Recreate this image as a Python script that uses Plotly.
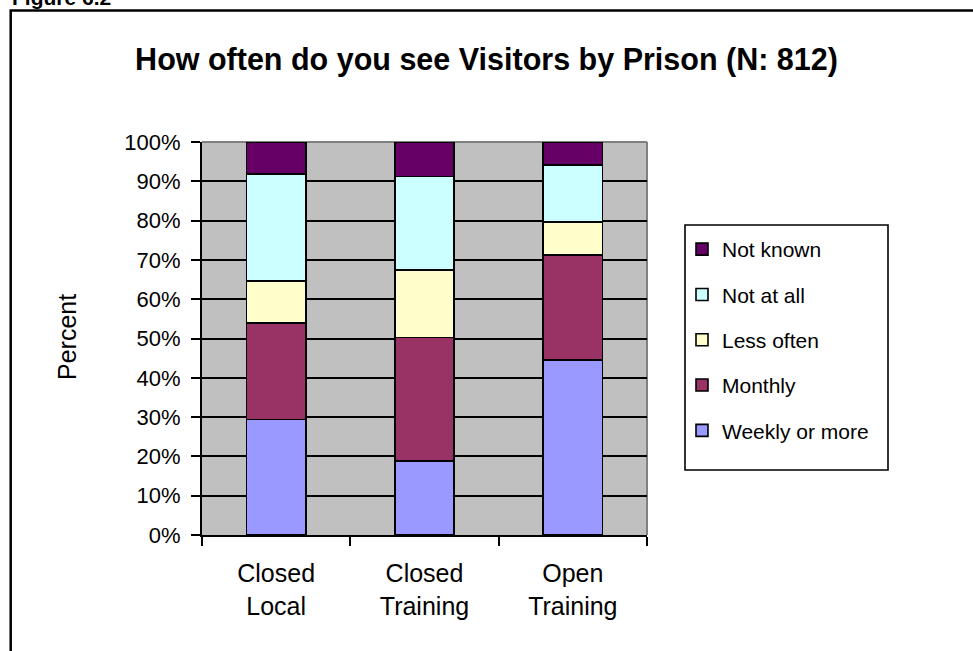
import plotly.graph_objects as go

# Survey responses: how often prisoners see visitors, by prison type (percent of respondents)
prisons = ["Closed<br>Local", "Closed<br>Training", "Open<br>Training"]
weekly_or_more = [29.4, 18.9, 44.5]
monthly = [24.5, 31.4, 26.7]
less_often = [10.7, 17.2, 8.5]
not_at_all = [27.2, 23.7, 14.4]
not_known = [8.2, 8.8, 5.9]

series = [
    ("Weekly or more", weekly_or_more, "#9999FF"),
    ("Monthly", monthly, "#993366"),
    ("Less often", less_often, "#FFFFCC"),
    ("Not at all", not_at_all, "#CCFFFF"),
    ("Not known", not_known, "#660066"),
]

W, H = 973, 651
L, R, T, B = 202, 326, 142, 116
PW, PH = W - L - R, H - T - B
FONT = "Liberation Sans, Arial, Helvetica, sans-serif"


def px_x(px):
    """Convert a horizontal pixel position to paper coordinates."""
    return (px - L) / PW


def px_y(py):
    """Convert a vertical pixel position (from the top) to paper coordinates."""
    return (H - B - py) / PH


fig = go.Figure()
n = len(series)
for i, (name, values, color) in enumerate(series):
    fig.add_trace(go.Bar(
        x=prisons,
        y=values,
        name=name,
        legendgroup=name,
        legendrank=n - i,  # top segment listed first in the legend
        marker=dict(color=color, line=dict(color="black", width=1.6)),
    ))

fig.update_layout(
    width=W,
    height=H,
    margin=dict(l=L, r=R, t=T, b=B, pad=0),
    barmode="stack",
    bargap=0.6,
    paper_bgcolor="white",
    plot_bgcolor="#C0C0C0",
    font=dict(family=FONT, color="black"),
    title=dict(
        text="How often do you see Visitors by Prison (N: 812)",
        font=dict(size=30.5, weight="bold", family=FONT, color="black"),
        x=0.5,
        xref="container",
        xanchor="center",
        y=1 - 59 / H,
        yref="container",
        yanchor="middle",
    ),
    xaxis=dict(
        showgrid=False,
        showline=True,
        linecolor="black",
        linewidth=2,
        ticks="outside",
        tickson="boundaries",
        ticklen=9,
        tickwidth=2,
        tickcolor="black",
        ticklabelstandoff=15,
        tickfont=dict(size=25, family=FONT, color="black"),
        zeroline=False,
    ),
    yaxis=dict(
        range=[0, 100],
        dtick=10,
        ticksuffix="%",
        showgrid=True,
        gridcolor="black",
        gridwidth=1.6,
        showline=True,
        linecolor="black",
        linewidth=2,
        ticks="outside",
        ticklen=9,
        tickwidth=2,
        tickcolor="black",
        ticklabelstandoff=6,
        tickfont=dict(size=22, family=FONT, color="black"),
        zeroline=False,
    ),
    legend=dict(
        x=px_x(682),
        y=px_y(229),
        xanchor="left",
        yanchor="top",
        traceorder="grouped",
        tracegroupgap=15,
        bgcolor="rgba(0,0,0,0)",
        borderwidth=0,
        font=dict(size=21, family=FONT, color="black"),
    ),
    showlegend=True,
)

# Legend box
fig.add_shape(type="rect", xref="paper", yref="paper",
              x0=px_x(685), x1=px_x(888), y0=px_y(470), y1=px_y(225),
              line=dict(color="black", width=1.6), fillcolor="white", layer="below")

# Gray plot-area border on top and right (between gridlines and bars)
fig.add_shape(type="line", xref="paper", yref="paper", x0=0, x1=1, y0=1, y1=1,
              line=dict(color="#808080", width=2), layer="between")
fig.add_shape(type="line", xref="paper", yref="paper", x0=1, x1=1, y0=0, y1=1,
              line=dict(color="#808080", width=2), layer="between")

# Outer frame around the whole figure
fig.add_shape(type="rect", xref="paper", yref="paper",
              x0=px_x(10.7), x1=px_x(W + 20), y0=px_y(H + 20), y1=px_y(10.5),
              line=dict(color="black", width=2.5), fillcolor="rgba(0,0,0,0)", layer="above")

# Y-axis label
fig.add_annotation(text="Percent", textangle=-90, xref="paper", yref="paper",
                   x=px_x(67), y=px_y(337), xanchor="center", yanchor="middle",
                   showarrow=False, font=dict(size=25, family=FONT, color="black"))

# Figure caption above the frame
fig.add_annotation(text="Figure 6.2", xref="paper", yref="paper",
                   x=px_x(10), y=px_y(11), xanchor="left", yanchor="bottom",
                   showarrow=False, font=dict(size=21, weight="bold", family=FONT, color="black"))

fig.write_html("out.html")
